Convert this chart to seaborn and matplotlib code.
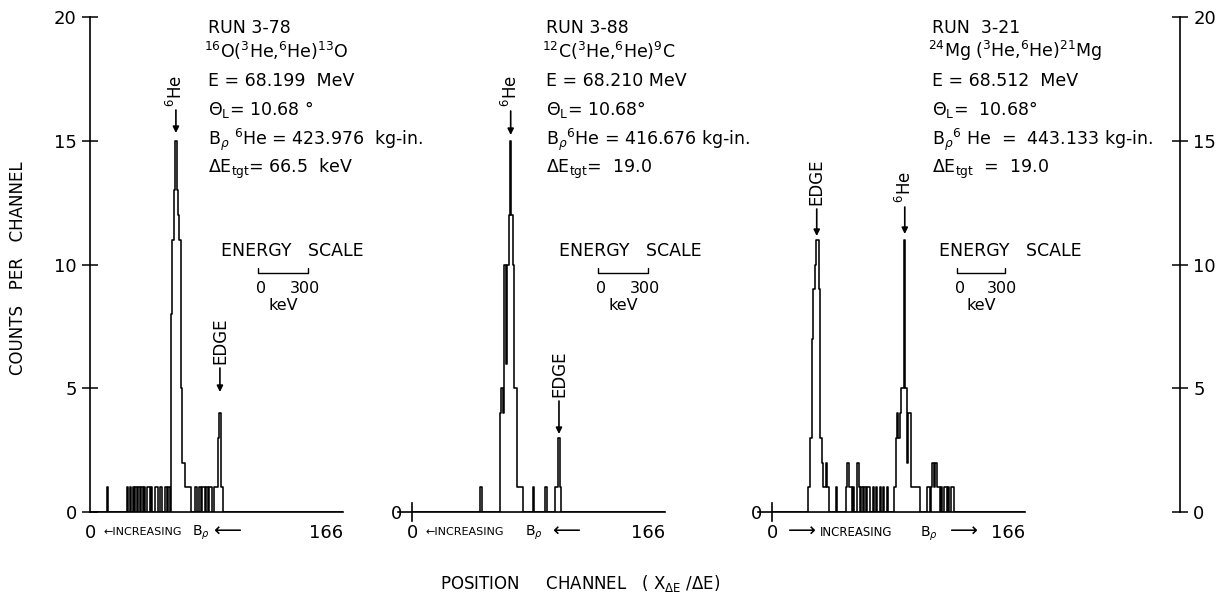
import numpy as np
import pandas as pd
import matplotlib
matplotlib.use("Agg")
import matplotlib.pyplot as plt
import seaborn as sns
from matplotlib.lines import Line2D

sns.set_style("white")
plt.rcParams["font.family"] = ["DejaVu Sans"]
plt.rcParams["mathtext.fontset"] = "dejavusans"
plt.rcParams["text.color"] = "black"
plt.rcParams["axes.labelcolor"] = "black"
plt.rcParams["xtick.color"] = "black"
plt.rcParams["ytick.color"] = "black"

# ---------------- data (channel index, counts per channel) ----------------
run1_channels = [12, 26, 28, 30, 32, 34, 36, 38, 40, 41, 43, 46, 47, 49, 50, 53, 55,
                 57, 58, 59, 60, 61, 62, 63, 64, 65, 66, 67, 68, 69, 70,
                 74, 77, 79, 80, 82, 84, 85, 87, 88, 89, 90, 91, 92, 93]
run1_counts = [1, 1, 1, 1, 1, 1, 1, 1, 1, 1, 1, 1, 1, 1, 1, 1, 1,
               8, 11, 13, 15, 13, 12, 11, 5, 2, 2, 1, 1, 1, 1,
               1, 1, 1, 1, 1, 1, 1, 1, 1, 1, 3, 4, 1, 1]

run2_channels = [48, 62, 63, 64, 65, 66, 67, 68, 69, 70, 71, 72, 73, 74, 75, 76, 77,
                 85, 94, 101, 102, 103, 104]
run2_counts = [1, 4, 5, 4, 10, 6, 10, 12, 15, 12, 10, 5, 5, 1, 1, 1, 1,
               1, 1, 1, 1, 3, 1]

run3_channels = [25, 26, 27, 28, 29, 30, 31, 32, 33, 34, 35, 36, 37, 38, 39,
                 45, 52, 53, 54, 55, 57, 60, 61, 63, 65, 67, 68, 71, 73, 76, 78, 81,
                 86, 87, 88, 89, 90, 91, 92, 93, 94, 95, 96, 97, 98, 99, 100, 101, 102, 103,
                 109, 110, 112, 113, 114, 115, 116, 117, 119, 121, 122, 124, 126, 127]
run3_counts = [1, 1, 3, 7, 9, 10, 11, 11, 9, 3, 2, 1, 1, 2, 1,
               1, 1, 2, 1, 1, 1, 2, 1, 1, 1, 1, 1, 1, 1, 1, 1, 1,
               1, 3, 4, 3, 4, 5, 5, 11, 5, 2, 4, 4, 1, 1, 1, 1, 1, 1,
               1, 1, 1, 2, 1, 2, 1, 1, 1, 1, 1, 1, 1, 1]

y_ticks = [0, 5, 10, 15, 20]
x_tick_vals = [0, 166]
x_tick_labels = ["0", "166"]

run1_text = ["RUN 3-78",
             r"$^{16}$O($^{3}$He,$^{6}$He)$^{13}$O",
             "E = 68.199  MeV",
             r"Θ$_{\rm L}$= 10.68 °",
             r"B$_{\rho}$ $^{6}$He = 423.976  kg-in.",
             r"ΔE$_{\rm tgt}$= 66.5  keV"]
run2_text = ["RUN 3-88",
             r"$^{12}$C($^{3}$He,$^{6}$He)$^{9}$C",
             "E = 68.210 MeV",
             r"Θ$_{\rm L}$= 10.68°",
             r"B$_{\rho}$$^{6}$He = 416.676 kg-in.",
             r"ΔE$_{\rm tgt}$=  19.0"]
run3_text = ["RUN  3-21",
             r"$^{24}$Mg ($^{3}$He,$^{6}$He)$^{21}$Mg",
             "E = 68.512  MeV",
             r"Θ$_{\rm L}$=  10.68°",
             r"B$_{\rho}$$^{6}$ He  =  443.133 kg-in.",
             r"ΔE$_{\rm tgt}$  =  19.0"]

# ---------------- layout helpers ----------------
W, H = 1221, 613
fig = plt.figure(figsize=(W / 100, H / 100), dpi=100)
fig.patch.set_facecolor("white")


def fx(x):
    return x / W


def fy(y):
    return 1 - y / H


Y0, Y20 = 512, 17
K = 1.42          # pixels per channel
CMAX = 178


def rect(px0, cmin):
    return [fx(px0 + cmin * K), fy(Y0), (CMAX - cmin) * K / W, (Y0 - Y20) / H]


# frame with the two count axes
frame = fig.add_axes([fx(90), fy(Y0), (1180 - 90) / W, (Y0 - Y20) / H])
frame.set_facecolor("none")
frame.set_xlim(0, 1)
frame.set_ylim(0, 20)
frame.set_xticks([])
frame.set_yticks(y_ticks)
frame.set_yticklabels([str(v) for v in y_ticks])
for s in ["top", "bottom"]:
    frame.spines[s].set_visible(False)
for s in ["left", "right"]:
    frame.spines[s].set_linewidth(1.2)
    frame.spines[s].set_color("black")
frame.tick_params(axis="y", direction="inout", length=11, width=1.1, labelsize=13,
                  left=True, right=True, labelleft=True, labelright=True, pad=4,
                  colors="black")
frame.set_zorder(0)

panels = [
    (run1_channels, run1_counts, 90, 0),
    (run2_channels, run2_counts, 412, -10),
    (run3_channels, run3_counts, 772, -10),
]
axes = []
for i, (ch, cnt, px0, cmin) in enumerate(panels):
    ax = fig.add_axes(rect(px0, cmin))
    ax.set_facecolor("none")
    df = pd.DataFrame({"channel": np.array(ch, dtype=float) + 0.5,
                       "counts": np.array(cnt, dtype=float)})
    sns.histplot(data=df, x="channel", weights="counts", binwidth=1, binrange=(0, CMAX),
                 element="step", fill=False, color="black", linewidth=1.15, ax=ax)
    ax.set_xlim(cmin, CMAX)
    ax.set_ylim(0, 20)
    ax.set_xlabel("")
    ax.set_ylabel("")
    for s in ["top", "right"]:
        ax.spines[s].set_visible(False)
    ax.spines["bottom"].set_linewidth(1.2)
    ax.spines["bottom"].set_color("black")
    ax.set_xticks(x_tick_vals)
    ax.set_xticklabels(x_tick_labels)
    ax.tick_params(axis="x", length=0, labelsize=13, pad=9, colors="black")
    if i == 0:
        ax.spines["left"].set_visible(False)
        ax.set_yticks([])
    else:
        ax.spines["left"].set_position(("data", 0))
        ax.spines["left"].set_bounds(-0.35, 0.35)
        ax.spines["left"].set_linewidth(1.2)
        ax.spines["left"].set_color("black")
        ax.set_yticks([0])
        ax.set_yticklabels(["0"])
        ax.tick_params(axis="y", length=0, labelsize=13, pad=7, colors="black")
    axes.append(ax)

# ---------------- text blocks ----------------
line_y = [28, 51, 81, 110, 140, 169]
for xs, lines in [(208, run1_text), (546, run2_text), (932, run3_text)]:
    for k, (yy, s) in enumerate(zip(line_y, lines)):
        xoff = -4 if k == 1 else 0
        fig.text(fx(xs + xoff), fy(yy), s, fontsize=12.5, ha="left", va="center")

# energy scale annotations
for cx, bx0, bx1 in [(292, 258, 308), (630, 598, 648), (1010, 957, 1005)]:
    fig.text(fx(cx), fy(251), "ENERGY   SCALE", fontsize=12.5, ha="center", va="center")
    fig.add_artist(Line2D([fx(bx0), fx(bx0), fx(bx1), fx(bx1)],
                          [fy(268), fy(273), fy(273), fy(268)],
                          transform=fig.transFigure, color="black", lw=1.0))
    fig.text(fx(bx0 + 3), fy(288), "0", fontsize=11.5, ha="center", va="center")
    fig.text(fx(bx1 - 3), fy(288), "300", fontsize=11.5, ha="center", va="center")
    fig.text(fx((bx0 + bx1) / 2), fy(305), "keV", fontsize=11.5, ha="center", va="center")


# ---------------- peak labels with arrows ----------------
def peak_channel(ch, cnt, lo, hi):
    sel = [(c, n) for c, n in zip(ch, cnt) if lo <= c <= hi]
    return max(sel, key=lambda t: t[1])[0] + 0.5


def cy(ypx):
    return (Y0 - ypx) / ((Y0 - Y20) / 20)


def label_peak(ax, xc, text, y_text, y_tail, y_tip, fs=12):
    ax.annotate("", xy=(xc, y_tip), xytext=(xc, y_tail),
                arrowprops=dict(arrowstyle="-|>", color="black", lw=1.2,
                                mutation_scale=9, shrinkA=0, shrinkB=0))
    ax.text(xc, y_text, text, rotation=90, ha="center", va="bottom", fontsize=fs)


label_peak(axes[0], peak_channel(run1_channels, run1_counts, 50, 75), r"$^{6}$He",
           cy(107), cy(110), cy(133))
label_peak(axes[0], peak_channel(run1_channels, run1_counts, 85, 100), "EDGE",
           cy(364), cy(368), cy(392))
label_peak(axes[1], peak_channel(run2_channels, run2_counts, 55, 80), r"$^{6}$He",
           cy(107), cy(111), cy(135))
label_peak(axes[1], peak_channel(run2_channels, run2_counts, 95, 110), "EDGE",
           cy(397), cy(401), cy(434))
label_peak(axes[2], peak_channel(run3_channels, run3_counts, 20, 45), "EDGE",
           cy(205), cy(209), cy(236))
label_peak(axes[2], peak_channel(run3_channels, run3_counts, 80, 105), r"$^{6}$He",
           cy(203), cy(207), cy(234))

# ---------------- direction notes under the axes ----------------
fig.text(fx(103), fy(532), "←INCREASING", fontsize=8, ha="left", va="center")
fig.text(fx(192), fy(533), r"B$_{\rho}$", fontsize=10, ha="left", va="center")
fig.text(fx(213), fy(531), "⟵", fontsize=14, ha="left", va="center")

fig.text(fx(425), fy(532), "←INCREASING", fontsize=8, ha="left", va="center")
fig.text(fx(525), fy(533), r"B$_{\rho}$", fontsize=10, ha="left", va="center")
fig.text(fx(552), fy(531), "⟵", fontsize=14, ha="left", va="center")

fig.text(fx(788), fy(531), "⟶", fontsize=14, ha="left", va="center")
fig.text(fx(820), fy(533), "INCREASING", fontsize=8.5, ha="left", va="center")
fig.text(fx(920), fy(534), r"B$_{\rho}$", fontsize=10, ha="left", va="center")
fig.text(fx(950), fy(531), "⟶", fontsize=14, ha="left", va="center")

# ---------------- axis titles ----------------
fig.text(fx(18), fy(268), "COUNTS   PER   CHANNEL", rotation=90, fontsize=12,
         ha="center", va="center")
fig.text(fx(580), fy(584), r"POSITION     CHANNEL   ( X$_{\Delta \mathrm{E}}$ /ΔE)",
         fontsize=12, ha="center", va="center")

fig.savefig("out.png", dpi=100, facecolor="white")
